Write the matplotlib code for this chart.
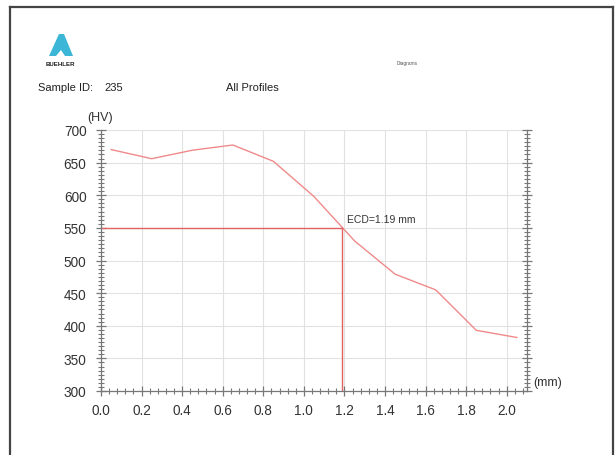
import matplotlib
matplotlib.use('Agg')
import matplotlib.pyplot as plt
from matplotlib.ticker import MultipleLocator
from matplotlib.patches import Polygon
from matplotlib.lines import Line2D

plt.rcParams['font.family'] = ['Liberation Sans', 'DejaVu Sans']

# hardness profile
depth_mm = [0.05, 0.25, 0.45, 0.65, 0.85, 1.05, 1.25, 1.45, 1.65, 1.85, 2.05]
hardness_hv = [670, 656, 669, 677, 652, 598, 530, 479, 455, 393, 382]
ecd_mm = 1.19
limit_hv = 550
sample_id = "235"

fig = plt.figure(figsize=(6.15, 4.56), dpi=100)
W, H = 615, 456

def fx(px):
    return px / W

def fy(py):
    return 1 - py / H

ax = fig.add_axes([fx(101), fy(392), (527 - 101) / W, (392 - 131) / H])

ax.plot(depth_mm, hardness_hv, color='#f08a8a', lw=1.0)
ax.plot([0, ecd_mm], [limit_hv, limit_hv], color='#e06262', lw=1.0)
ax.plot([ecd_mm, ecd_mm], [300, limit_hv], color='#e06262', lw=1.0)
ax.text(ecd_mm + 0.025, limit_hv + 6, "ECD=%.2f mm" % ecd_mm,
        fontsize=7.5, color='#333333', va='bottom', ha='left')

ax.set_xlim(0, 2.1)
ax.set_ylim(300, 700)
ax.xaxis.set_major_locator(MultipleLocator(0.2))
ax.xaxis.set_minor_locator(MultipleLocator(0.04))
ax.yaxis.set_major_locator(MultipleLocator(50))
ax.yaxis.set_minor_locator(MultipleLocator(6.25))
ax.xaxis.set_major_formatter(plt.FuncFormatter(lambda v, p: "%.1f" % v))

ax.grid(True, which='major', color='#e2e2e2', lw=0.8)
ax.set_axisbelow(True)

ax.spines['top'].set_visible(False)
for s in ['left', 'right', 'bottom']:
    ax.spines[s].set_color('#777777')
    ax.spines[s].set_linewidth(0.9)

ax.tick_params(axis='both', which='major', direction='inout', length=7,
               width=0.9, color='#777777', labelsize=9.8, labelcolor='#333333')
ax.tick_params(axis='both', which='minor', direction='inout', length=4,
               width=0.8, color='#777777')
ax.tick_params(axis='y', which='both', right=True, pad=7)
ax.tick_params(axis='x', which='both', top=False, pad=5)

fig.text(fx(87), fy(118), "(HV)", fontsize=9, color='#333333', va='center', ha='left')
fig.text(fx(533), fy(383), "(mm)", fontsize=9, color='#333333', va='center', ha='left')

# header
fig.text(fx(38), fy(88), "Sample ID:", fontsize=8, color='#222222', va='center')
fig.text(fx(104), fy(88), sample_id, fontsize=8, color='#222222', va='center')
fig.text(fx(226), fy(88), "All Profiles", fontsize=8, color='#222222', va='center')
fig.text(fx(397), fy(63), "Diagrams", fontsize=3.5, color='#555555', va='center')

# logo
logo = Polygon([(fx(49), fy(57)), (fx(59), fy(35)), (fx(64), fy(35)), (fx(73), fy(57)),
                (fx(65), fy(57)), (fx(61), fy(51)), (fx(56), fy(57))],
               closed=True, transform=fig.transFigure, facecolor='#3cb6d6', edgecolor='none')
fig.patches.append(logo)
fig.text(fx(60), fy(64), "BUEHLER", fontsize=4.4, fontweight='bold', color='#222222',
         ha='center', va='center')

# page border
for xs, ys in [([10, 10], [456, 8]), ([10, 613], [8, 8]), ([613, 613], [8, 456])]:
    fig.add_artist(Line2D([fx(x) for x in xs], [fy(y) for y in ys],
                          transform=fig.transFigure, color='#444444', lw=1.6))

fig.savefig('out.png', dpi=100)
